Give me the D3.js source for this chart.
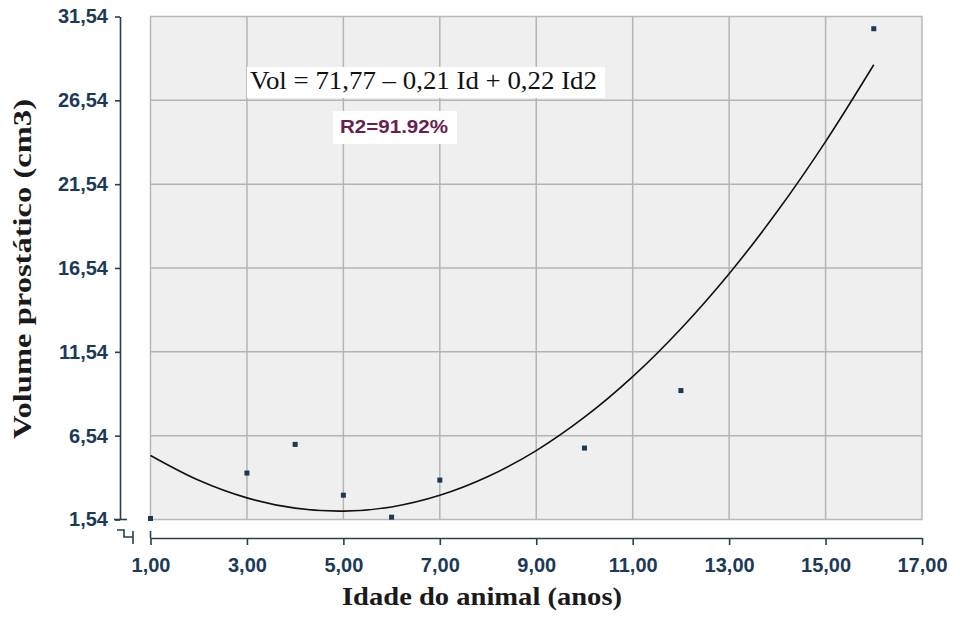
<!DOCTYPE html>
<meta charset="utf-8">
<body style="margin:0;background:#fff">
<script src="https://d3js.org/d3.v7.min.js"></script>
<script>
var width = 960,
    height = 623;

// idade (anos) e volume prostatico (cm3)
var idade = [1, 3, 4, 5, 6, 7, 10, 12, 16];
var volume = [1.60, 4.31, 6.02, 2.99, 1.68, 3.89, 5.80, 9.23, 30.81];

// linha de tendencia
var curvaX = [1, 2, 3, 4, 5, 6, 7, 8, 9, 10, 11, 12, 13, 14, 15, 16];
var curvaY = [5.36, 3.88, 2.83, 2.22, 2.04, 2.29, 2.98, 4.10, 5.65, 7.64, 10.06, 12.92, 16.20, 19.92, 24.08, 28.66];

var yTicks = [1.54, 6.54, 11.54, 16.54, 21.54, 26.54, 31.54];
var xTicks = [1, 3, 5, 7, 9, 11, 13, 15, 17];

var equacao = "Vol = 71,77 \u2013 0,21 Id + 0,22 Id2";
var r2 = "R2=91.92%";

var x = d3.scaleLinear().domain([1, 17]).range([150.5, 922]);
var y = d3.scaleLinear().domain([1.54, 31.54]).range([519.5, 16.5]);

var fmt = function(d) { return d3.format(".2f")(d).replace(".", ","); };

var svg = d3.select("body").append("svg")
    .attr("width", width)
    .attr("height", height);

// area do grafico
svg.append("rect")
    .attr("x", x(1)).attr("y", y(31.54))
    .attr("width", x(17) - x(1)).attr("height", y(1.54) - y(31.54))
    .attr("fill", "#efefef")
    .attr("stroke", "#b9b9b9")
    .attr("stroke-width", 1.5);

var grid = svg.append("g").attr("stroke", "#b4b4b4").attr("stroke-width", 1.5);
grid.selectAll("line.h")
    .data(yTicks.slice(1, -1))
    .enter().append("line")
    .attr("x1", x(1)).attr("x2", x(17))
    .attr("y1", function(d) { return y(d); })
    .attr("y2", function(d) { return y(d); });
grid.selectAll("line.v")
    .data(xTicks.slice(1, -1))
    .enter().append("line")
    .attr("y1", y(1.54)).attr("y2", y(31.54))
    .attr("x1", function(d) { return x(d); })
    .attr("x2", function(d) { return x(d); });

// caixas de texto
svg.append("rect")
    .attr("x", 247).attr("y", 67).attr("width", 358).attr("height", 31)
    .attr("fill", "#fff");
svg.append("text")
    .attr("x", 250).attr("y", 89)
    .attr("textLength", 347).attr("lengthAdjust", "spacingAndGlyphs")
    .style("font-family", "'Liberation Serif', 'Times New Roman', serif")
    .style("font-size", "25px")
    .attr("fill", "#111")
    .text(equacao);

svg.append("rect")
    .attr("x", 333).attr("y", 111).attr("width", 124).attr("height", 33)
    .attr("fill", "#fff");
svg.append("text")
    .attr("x", 340).attr("y", 133)
    .attr("textLength", 108).attr("lengthAdjust", "spacingAndGlyphs")
    .style("font-family", "'Liberation Sans', Arial, sans-serif")
    .style("font-size", "18px")
    .style("font-weight", "bold")
    .attr("fill", "#6a1d4e")
    .text(r2);

// curva de tendencia
var line = d3.line()
    .x(function(d) { return x(d[0]); })
    .y(function(d) { return y(d[1]); })
    .curve(d3.curveCatmullRom);

svg.append("path")
    .datum(d3.zip(curvaX, curvaY))
    .attr("d", line)
    .attr("fill", "none")
    .attr("stroke", "#111")
    .attr("stroke-width", 1.6);

// pontos
svg.selectAll("rect.pt")
    .data(d3.zip(idade, volume))
    .enter().append("rect")
    .attr("class", "pt")
    .attr("x", function(d) { return x(d[0]) - 2.5; })
    .attr("y", function(d) { return y(d[1]) - 2.5; })
    .attr("width", 5).attr("height", 5)
    .attr("fill", "#1c3856");

// eixos
var axisColor = "#2c3e4c",
    labelColor = "#1b3a58";

var yAxis = svg.append("g")
    .attr("transform", "translate(120,0)")
    .call(d3.axisLeft(y).tickValues(yTicks).tickFormat(fmt).tickSize(5).tickSizeOuter(0).tickPadding(7));

var xAxis = svg.append("g")
    .attr("transform", "translate(0,538)")
    .call(d3.axisBottom(x).tickValues(xTicks).tickFormat(fmt)
        .tickSize(7).tickSizeOuter(0).tickPadding(13));

[yAxis, xAxis].forEach(function(a) {
    a.select(".domain").attr("stroke", axisColor).attr("stroke-width", 1.6);
    a.selectAll(".tick line").attr("stroke", axisColor).attr("stroke-width", 1.6);
    a.selectAll(".tick text")
        .attr("fill", labelColor)
        .style("font-family", "'Liberation Sans', Arial, sans-serif")
        .style("font-size", "20px")
        .style("font-weight", "bold");
});

// quebra do eixo
var brk = svg.append("g").attr("stroke", axisColor).attr("stroke-width", 1.6).attr("fill", "none");
brk.append("path").attr("d", "M114," + y(1.54) + "H127");
brk.append("path").attr("d", "M117,530H124V537H133M133,531V544");
brk.append("path").attr("d", "M" + x(1) + ",531V538");

// titulos
svg.append("text")
    .attr("transform", "translate(31," + 269 + ") rotate(-90)")
    .attr("text-anchor", "middle")
    .attr("textLength", 340).attr("lengthAdjust", "spacingAndGlyphs")
    .style("font-family", "'Liberation Serif', 'Times New Roman', serif")
    .style("font-size", "25px")
    .style("font-weight", "bold")
    .attr("fill", "#1a1a1a")
    .text("Volume prostático (cm3)");

svg.append("text")
    .attr("x", 482).attr("y", 605)
    .attr("text-anchor", "middle")
    .attr("textLength", 280).attr("lengthAdjust", "spacingAndGlyphs")
    .style("font-family", "'Liberation Serif', 'Times New Roman', serif")
    .style("font-size", "26px")
    .style("font-weight", "bold")
    .attr("fill", "#1a1a1a")
    .text("Idade do animal (anos)");
</script>
</body>
</html>
